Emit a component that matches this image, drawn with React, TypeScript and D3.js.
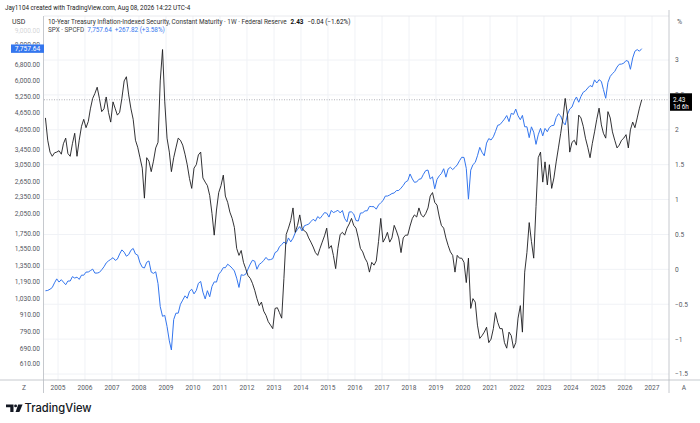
import * as d3 from 'd3';

// monthly readings, first point = Jul 2004, last = Aug 2026
const firstMonth = new Date(2004, 6, 15);

const spxCloses = [
  1101, 1104, 1115, 1130, 1174, 1212,
  1181, 1204, 1181, 1156, 1191, 1191, 1234, 1220, 1229, 1207, 1249, 1248,
  1280, 1281, 1295, 1311, 1270, 1270, 1277, 1304, 1336, 1378, 1401, 1418,
  1438, 1407, 1421, 1482, 1531, 1503, 1455, 1474, 1527, 1549, 1481, 1468,
  1379, 1331, 1323, 1386, 1400, 1280, 1267, 1283, 1166, 969, 896, 903,
  826, 735, 683, 873, 919, 919, 987, 1021, 1057, 1036, 1096, 1115,
  1074, 1104, 1169, 1187, 1089, 1031, 1102, 1049, 1141, 1183, 1181, 1258,
  1286, 1327, 1326, 1364, 1345, 1321, 1292, 1219, 1131, 1253, 1247, 1258,
  1312, 1366, 1408, 1398, 1310, 1362, 1379, 1407, 1441, 1412, 1416, 1426,
  1498, 1515, 1569, 1598, 1631, 1606, 1686, 1633, 1682, 1757, 1806, 1848,
  1783, 1859, 1872, 1884, 1924, 1960, 1931, 2003, 1972, 2018, 2068, 2059,
  1995, 2105, 2068, 2086, 2107, 2063, 2104, 1972, 1920, 2079, 2080, 2044,
  1940, 1932, 2060, 2065, 2097, 2099, 2174, 2171, 2168, 2126, 2199, 2239,
  2279, 2364, 2363, 2384, 2412, 2423, 2470, 2472, 2519, 2575, 2648, 2674,
  2824, 2714, 2641, 2648, 2705, 2718, 2816, 2902, 2914, 2712, 2760, 2507,
  2704, 2784, 2834, 2946, 2752, 2942, 2980, 2926, 2977, 3038, 3141, 3231,
  3226, 2954, 2305, 2912, 3044, 3100, 3271, 3500, 3363, 3270, 3622, 3756,
  3714, 3811, 3973, 4181, 4204, 4298, 4395, 4523, 4308, 4605, 4567, 4766,
  4516, 4374, 4530, 4132, 4132, 3785, 4130, 3955, 3586, 3872, 4080, 3840,
  4077, 3970, 4109, 4169, 4180, 4450, 4589, 4508, 4288, 4194, 4568, 4770,
  4846, 5096, 5254, 5036, 5278, 5460, 5522, 5648, 5762, 5705, 6032, 5882,
  6041, 5955, 5580, 5200, 5912, 6205, 6339, 6460, 6688, 6840, 6850, 6900,
  7050, 7000, 6570, 7200, 7600, 7700, 7600, 7758,
];

const tipsYields = [
  2.17, 1.85, 1.68, 1.62, 1.67, 1.68,
  1.7, 1.65, 1.8, 1.88, 1.66, 1.62, 1.8, 1.95, 1.62, 1.85, 2.05, 2.15,
  2.03, 2.12, 2.3, 2.45, 2.52, 2.61, 2.45, 2.26, 2.3, 2.47, 2.25, 2.11,
  2.4, 2.3, 2.21, 2.25, 2.45, 2.7, 2.76, 2.5, 2.3, 2.15, 1.85, 1.75,
  1.6, 1.45, 1.02, 1.6, 1.55, 1.4, 1.55, 1.74, 1.82, 2.7, 3.15, 2.4,
  1.88, 1.68, 1.4, 1.6, 1.74, 1.88, 1.85, 1.78, 1.65, 1.5, 1.3, 1.16,
  1.45, 1.5, 1.64, 1.68, 1.31, 1.25, 1.2, 1.06, 0.8, 0.49, 0.85, 1.1,
  1.2, 1.35, 1.05, 0.96, 0.82, 0.73, 0.6, 0.3, 0.2, 0.27, 0.1, 0.01,
  -0.09, -0.13, -0.2, -0.3, -0.42, -0.52, -0.47, -0.6, -0.66, -0.75, -0.8, -0.85,
  -0.56, -0.55, -0.62, -0.7, -0.13, 0.5, 0.59, 0.7, 0.88, 0.53, 0.63, 0.78,
  0.59, 0.55, 0.53, 0.45, 0.39, 0.32, 0.24, 0.2, 0.3, 0.39, 0.48, 0.59,
  0.3, 0.34, 0.2, 0.01, 0.3, 0.5, 0.53, 0.49, 0.59, 0.65, 0.73, 0.63,
  0.59, 0.45, 0.3, 0.25, 0.16, 0.1, -0.04, 0.1, 0.06, 0.12, 0.4, 0.73,
  0.39, 0.45, 0.53, 0.39, 0.45, 0.63, 0.55, 0.45, 0.24, 0.45, 0.49, 0.49,
  0.62, 0.73, 0.78, 0.75, 0.88, 0.78, 0.75, 0.8, 0.88, 1.05, 1.1, 0.96,
  0.92, 0.75, 0.63, 0.59, 0.45, 0.34, 0.25, 0.2, -0.04, 0.2, 0.16, 0.16,
  0.1, -0.19, 0.16, -0.56, -0.42, -0.47, -0.8, -0.99, -0.95, -0.9, -0.83, -1.05,
  -1.0, -0.85, -0.62, -0.76, -0.85, -0.85, -1.05, -1.13, -0.9, -0.95, -1.13, -1.05,
  -0.7, -0.52, -0.9, -0.04, 0.24, 0.67, 0.4, 0.16, 0.9, 1.6, 1.68, 1.25,
  1.54, 1.21, 1.5, 1.16, 1.31, 1.54, 1.74, 1.95, 2.17, 2.45, 2.21, 1.68,
  1.82, 1.85, 1.78, 2.21, 2.17, 2.05, 1.88, 1.75, 1.6, 1.8, 1.97, 2.15,
  2.31, 2.07, 1.95, 1.88, 2.26, 2.17, 1.97, 1.85, 1.74, 1.78, 1.85, 1.88,
  1.93, 1.74, 2.0, 2.11, 2.03, 2.17, 2.31, 2.43,
];

const years = d3.range(2005, 2028);
const leftTicks = [9000, 8000, 6800, 6000, 5250, 4650, 4050, 3450, 3050, 2650, 2350, 2050, 1750, 1550, 1350, 1190, 1030, 910, 790, 690, 610];
const rightTicks = [3, 2.5, 2, 1.5, 1, 0.5, 0, -0.5, -1, -1.5];

const W = 700;
const H = 423;
const plotL = 44;
const plotR = 669;
const plotT = 16;
const plotB = 380;

const font = 'Roboto, "Liberation Sans", sans-serif';
const blue = '#3476ee';
const grid = '#f0f2f6';
const axisLine = '#b8bbc2';
const labelColor = '#55585f';

type Pt = { date: Date; value: number };

export default function App() {
  const x = d3.scaleTime().domain([new Date(2005, 0, 1), new Date(2027, 0, 1)]).range([58, 652]);
  const yLeft = d3.scaleLog().domain([610, 6800]).range([364, 65]);
  const yRight = d3.scaleLinear().domain([-1.5, 3]).range([374, 60]);

  const n = Math.min(spxCloses.length, tipsYields.length);
  const dates = d3.range(n).map((i) => d3.timeMonth.offset(firstMonth, i));
  const spx: Pt[] = dates.map((d, i) => ({ date: d, value: spxCloses[i] }));
  const tips: Pt[] = dates.map((d, i) => ({ date: d, value: tipsYields[i] }));

  const spxLine = d3.line<Pt>().x((d) => x(d.date)).y((d) => yLeft(d.value));
  const tipsLine = d3.line<Pt>().x((d) => x(d.date)).y((d) => yRight(d.value));

  const lastSpx = spxCloses[n - 1];
  const lastTips = tipsYields[n - 1];
  const fmt = d3.format(',.2f');

  // labels sitting behind the last-value tags are only partly shown, as in the original
  const hiddenLeft = (t: number) => Math.abs(yLeft(t) - yLeft(lastSpx)) < 4;
  const hiddenRight = (t: number) => Math.abs(yRight(t) - yRight(lastTips)) < 6;

  return (
    <svg width={W} height={H} style={{ position: 'absolute', left: 0, top: 0, background: '#fff' }} fontFamily={font}>
      <defs>
        <clipPath id="plot">
          <rect x={plotL} y={plotT} width={plotR - plotL} height={plotB - plotT} />
        </clipPath>
        <clipPath id="aboveLeftTag">
          <rect x={0} y={0} width={plotL} height={yLeft(lastSpx) - 4.2} />
        </clipPath>
        <clipPath id="aboveRightTag">
          <rect x={plotR} y={0} width={W - plotR} height={yRight(lastTips) - 6.5} />
        </clipPath>
      </defs>
      <rect width={W} height={H} fill="#fff" />

      {/* grid */}
      {years.map((yr) => (
        <line key={yr} x1={x(new Date(yr, 0, 1))} x2={x(new Date(yr, 0, 1))} y1={plotT} y2={plotB} stroke={grid} />
      ))}
      {rightTicks.map((t) => (
        <line key={t} x1={plotL} x2={plotR} y1={yRight(t)} y2={yRight(t)} stroke={grid} />
      ))}

      {/* last value line */}
      <line x1={plotL} x2={plotR} y1={yRight(lastTips)} y2={yRight(lastTips)} stroke="#9a9da5" strokeDasharray="1,1.5" strokeWidth={0.8} />

      <g clipPath="url(#plot)">
        <path d={spxLine(spx) ?? ''} fill="none" stroke={blue} strokeWidth={1} />
        <path d={tipsLine(tips) ?? ''} fill="none" stroke="#1c1c1f" strokeWidth={0.9} />
      </g>

      {/* frame */}
      <line x1={0} x2={W} y1={plotB} y2={plotB} stroke={axisLine} strokeWidth={0.8} />
      <line x1={plotL} x2={plotR} y1={plotT} y2={plotT} stroke="#e3e5ea" strokeWidth={0.8} />
      <line x1={plotL - 0.5} x2={plotL - 0.5} y1={plotT} y2={393} stroke={axisLine} strokeWidth={0.8} />
      <line x1={plotR} x2={plotR} y1={plotT - 6} y2={393} stroke={axisLine} strokeWidth={0.8} />

      {/* left axis */}
      <text x={12} y={23.5} fontSize={7} fill="#333">USD</text>
      {leftTicks.map((t) => (
        <text
          key={t}
          x={40}
          y={yLeft(t) + 2.4}
          fontSize={6.6}
          fill={labelColor}
          textAnchor="end"
          opacity={t === 9000 ? 0.25 : 1}
          clipPath={hiddenLeft(t) ? 'url(#aboveLeftTag)' : undefined}
        >
          {fmt(t)}
        </text>
      ))}
      <rect x={11} y={yLeft(lastSpx) - 4.2} width={33} height={8.4} fill={blue} />
      <text x={27.5} y={yLeft(lastSpx) + 2.4} fontSize={6.6} fill="#fff" textAnchor="middle">
        {fmt(lastSpx - 0.36)}
      </text>

      {/* right axis */}
      <text x={677} y={23.5} fontSize={7} fill={labelColor}>%</text>
      {rightTicks.map((t) => (
        <text
          key={t}
          x={675}
          y={yRight(t) + 2.4}
          fontSize={6.6}
          fill={labelColor}
          clipPath={hiddenRight(t) ? 'url(#aboveRightTag)' : undefined}
        >
          {t < 0 ? `\u2212${Math.abs(t)}` : String(t)}
        </text>
      ))}
      <rect x={670} y={yRight(lastTips) - 6.5} width={22} height={17.5} fill="#000" />
      <text x={673} y={yRight(lastTips) + 2.2} fontSize={6.4} fill="#fff">{lastTips.toFixed(2)}</text>
      <text x={673} y={yRight(lastTips) + 9} fontSize={6.4} fill="#fff">1d 6h</text>

      {/* time axis */}
      {years.map((yr) => (
        <text key={yr} x={x(new Date(yr, 0, 1))} y={389.5} fontSize={6.6} fill={labelColor} textAnchor="middle">
          {yr}
        </text>
      ))}
      <text x={24} y={389.5} fontSize={6.6} fill={labelColor} textAnchor="middle">Z</text>
      <text x={684} y={389.5} fontSize={6.6} fill={labelColor} textAnchor="middle">A</text>

      {/* header */}
      <text x={5} y={9.5} fontSize={6.3} fill="#222">Jay1104 created with TradingView.com, Aug 08, 2026 14:22 UTC-4</text>
      <text x={48} y={23.5} fontSize={6.4} fill="#333">
        10-Year Treasury Inflation-Indexed Security, Constant Maturity · 1W · Federal Reserve
        <tspan dx={4} fontWeight={700} fill="#111">{lastTips.toFixed(2)}</tspan>
        <tspan dx={4} fill="#111">{'\u22120.04 (\u22121.62%)'}</tspan>
      </text>
      <text x={48} y={31.5} fontSize={6.4} fill="#444">
        SPX · SPCFD
        <tspan dx={3} fill={blue}>{fmt(lastSpx - 0.36)}</tspan>
        <tspan dx={3} fill={blue}>+267.82 (+3.58%)</tspan>
      </text>

      {/* logo */}
      <g fill="#131722">
        <path d="M6 404.5 H13.5 V412 H10.3 V407.3 H6 Z" />
        <circle cx={15.6} cy={405.9} r={1.45} />
        <path d="M18.2 404.5 H22.6 L19.4 412 H15.6 Z" />
      </g>
      <text x={24.5} y={412.3} fontSize={11.2} fontWeight={500} fill="#131722" fontFamily="Inter, Roboto, sans-serif">
        TradingView
      </text>
    </svg>
  );
}
